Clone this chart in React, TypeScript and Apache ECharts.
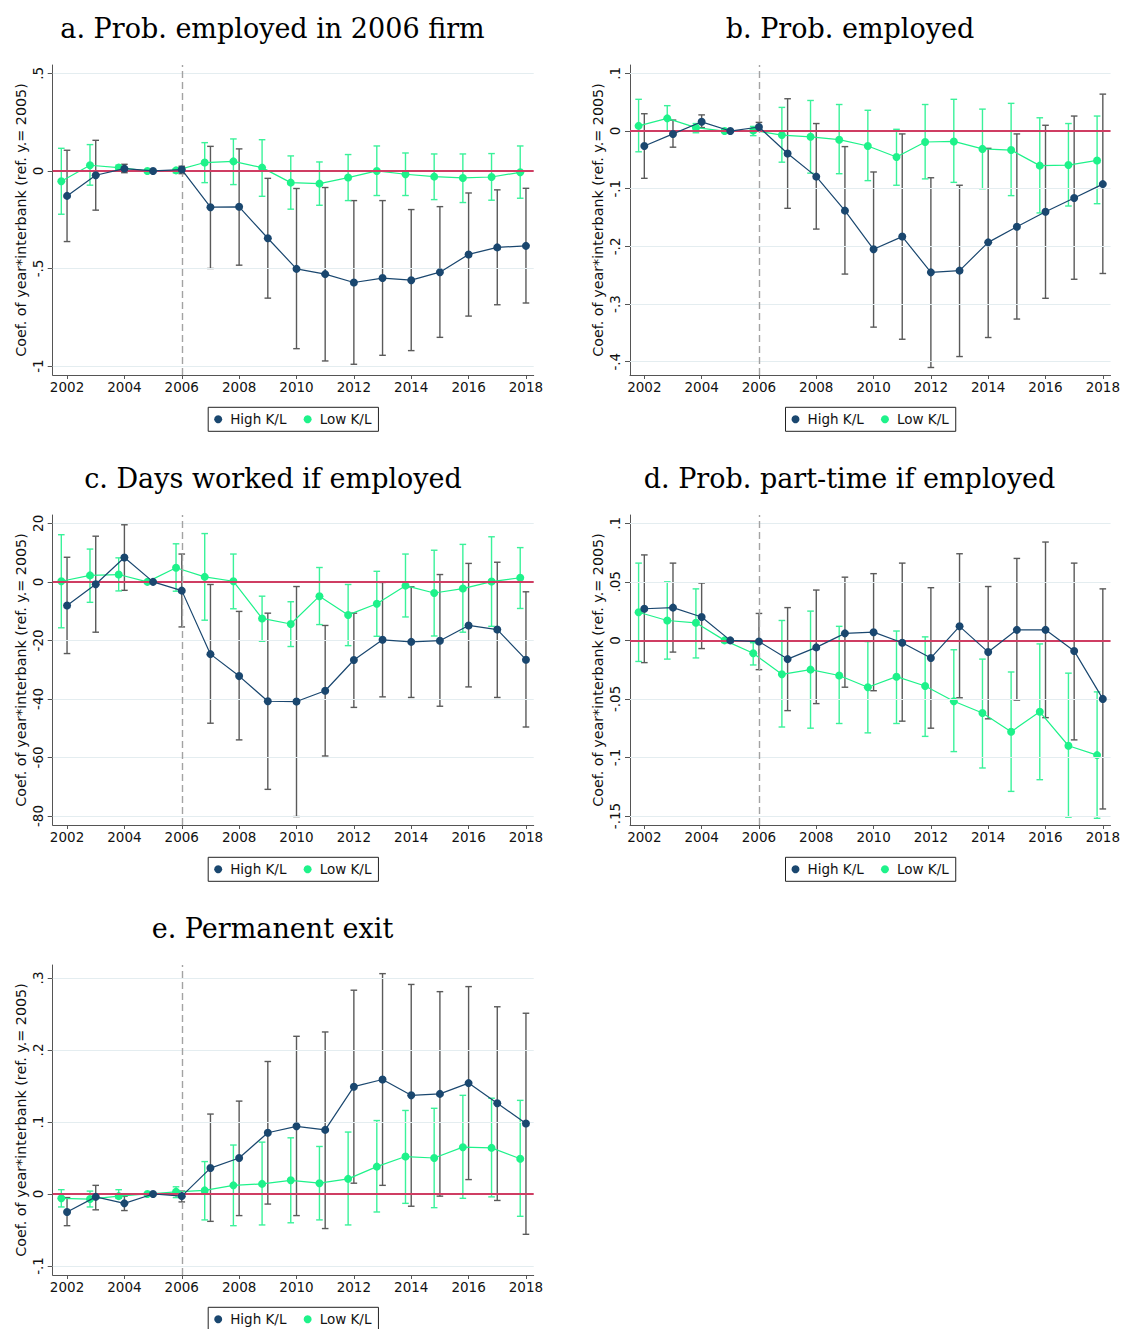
import React, { useEffect, useRef } from "react";
import * as echarts from "echarts";

// Event-study coefficients (year * interbank exposure, reference year 2005),
// with 95% confidence bounds, split by capital-labour ratio of the firm.
const years = [2002, 2003, 2004, 2005, 2006, 2007, 2008, 2009, 2010, 2011, 2012, 2013, 2014, 2015, 2016, 2017, 2018];
const xTicks = [2002, 2004, 2006, 2008, 2010, 2012, 2014, 2016, 2018];
const seriesNames = ["High K/L", "Low K/L"];
const yTitle = "Coef. of year*interbank (ref. y.= 2005)";

// a. Prob. employed in 2006 firm
const aTicks = [-1, -0.5, 0, 0.5];
const aHigh = [-0.128, -0.022, 0.012, 0, 0.007, -0.186, -0.184, -0.345, -0.502, -0.529, -0.572, -0.549, -0.56, -0.519, -0.428, -0.392, -0.384];
const aHighLo = [-0.362, -0.201, -0.009, null, -0.014, -0.5, -0.483, -0.652, -0.911, -0.974, -0.991, -0.945, -0.921, -0.853, -0.744, -0.686, -0.677];
const aHighHi = [0.106, 0.157, 0.034, null, 0.024, 0.126, 0.113, -0.038, -0.09, -0.085, -0.152, -0.152, -0.198, -0.183, -0.113, -0.097, -0.089];
const aLow = [-0.053, 0.029, 0.017, 0, 0.003, 0.043, 0.049, 0.017, -0.06, -0.065, -0.034, 0.0, -0.017, -0.029, -0.036, -0.031, -0.007];
const aLowLo = [-0.222, -0.073, 0.005, null, -0.01, -0.06, -0.07, -0.13, -0.196, -0.176, -0.152, -0.126, -0.126, -0.147, -0.162, -0.15, -0.14];
const aLowHi = [0.116, 0.135, 0.03, null, 0.012, 0.145, 0.164, 0.16, 0.077, 0.046, 0.084, 0.128, 0.092, 0.087, 0.087, 0.089, 0.128];

// b. Prob. employed
const bTicks = [-0.4, -0.3, -0.2, -0.1, 0, 0.1];
const bHigh = [-0.026, -0.005, 0.016, 0, 0.007, -0.039, -0.079, -0.138, -0.205, -0.183, -0.245, -0.242, -0.193, -0.166, -0.14, -0.116, -0.092];
const bHighLo = [-0.082, -0.028, 0.006, null, 0.0, -0.134, -0.17, -0.248, -0.34, -0.361, -0.41, -0.391, -0.358, -0.326, -0.29, -0.257, -0.247];
const bHighHi = [0.03, 0.019, 0.028, null, 0.015, 0.056, 0.013, -0.027, -0.071, -0.005, -0.081, -0.094, -0.03, -0.005, 0.01, 0.026, 0.064];
const bLow = [0.009, 0.022, 0.006, 0, 0.001, -0.007, -0.01, -0.015, -0.026, -0.045, -0.019, -0.018, -0.031, -0.033, -0.06, -0.059, -0.051];
const bLowLo = [-0.036, 0.0, -0.003, null, -0.008, -0.054, -0.073, -0.074, -0.086, -0.094, -0.083, -0.089, -0.1, -0.112, -0.142, -0.13, -0.126];
const bLowHi = [0.055, 0.044, 0.013, null, 0.008, 0.041, 0.053, 0.046, 0.036, 0.003, 0.046, 0.055, 0.038, 0.048, 0.023, 0.013, 0.026];

// c. Days worked if employed
const cTicks = [-80, -60, -40, -20, 0, 20];
const cHigh = [-8.1, -0.8, 8.3, 0, -3.0, -24.7, -32.2, -40.8, -40.9, -37.2, -26.7, -19.8, -20.5, -20.1, -14.9, -16.3, -26.6];
const cHighLo = [-24.5, -17.2, -2.9, null, -15.4, -48.3, -54.0, -70.9, -80.2, -59.5, -42.9, -39.3, -39.5, -42.5, -35.9, -39.5, -49.6];
const cHighHi = [8.4, 15.6, 19.5, null, 9.5, -0.9, -10.1, -10.7, -1.6, -14.9, -10.7, -0.2, -1.7, 2.5, 6.3, 6.7, -3.4];
const cLow = [0.2, 2.2, 2.5, 0, 4.8, 1.7, 0.2, -12.5, -14.4, -4.9, -11.3, -7.5, -1.3, -3.8, -2.3, 0.1, 1.4];
const cLowLo = [-15.7, -7.0, -3.1, null, -3.2, -13.1, -9.2, -20.3, -22.1, -14.6, -21.8, -18.6, -12.0, -18.5, -17.2, -15.2, -9.1];
const cLowHi = [16.1, 11.2, 8.2, null, 13.0, 16.5, 9.5, -4.9, -6.8, 4.9, -0.9, 3.6, 9.5, 10.8, 12.8, 15.4, 11.7];

// d. Prob. part-time if employed
const dTicks = [-0.15, -0.1, -0.05, 0, 0.05, 0.1];
const dHigh = [0.027, 0.028, 0.02, 0, -0.001, -0.016, -0.006, 0.006, 0.007, -0.002, -0.015, 0.012, -0.01, 0.009, 0.009, -0.009, -0.05];
const dHighLo = [-0.019, -0.01, -0.007, null, -0.025, -0.06, -0.054, -0.04, -0.043, -0.069, -0.075, -0.049, -0.067, -0.051, -0.066, -0.085, -0.144];
const dHighHi = [0.073, 0.066, 0.049, null, 0.023, 0.028, 0.043, 0.054, 0.057, 0.066, 0.045, 0.074, 0.046, 0.07, 0.084, 0.066, 0.044];
const dLow = [0.024, 0.017, 0.015, 0, -0.011, -0.029, -0.025, -0.03, -0.04, -0.031, -0.039, -0.052, -0.062, -0.078, -0.061, -0.09, -0.098];
const dLowLo = [-0.018, -0.016, -0.015, null, -0.021, -0.074, -0.075, -0.071, -0.079, -0.071, -0.082, -0.095, -0.109, -0.129, -0.119, -0.151, -0.152];
const dLowHi = [0.066, 0.05, 0.044, null, -0.002, 0.017, 0.025, 0.012, -0.001, 0.008, 0.003, -0.008, -0.016, -0.027, -0.003, -0.028, -0.044];

// e. Permanent exit
const eTicks = [-0.1, 0, 0.1, 0.2, 0.3];
const eHigh = [-0.025, -0.004, -0.013, 0, -0.003, 0.036, 0.05, 0.085, 0.094, 0.089, 0.149, 0.159, 0.137, 0.139, 0.154, 0.126, 0.098];
const eHighLo = [-0.044, -0.022, -0.023, null, -0.011, -0.038, -0.03, -0.014, -0.03, -0.048, 0.015, 0.012, -0.017, -0.003, 0.02, -0.009, -0.056];
const eHighHi = [-0.005, 0.012, -0.003, null, 0.004, 0.111, 0.129, 0.184, 0.219, 0.225, 0.283, 0.306, 0.291, 0.281, 0.288, 0.26, 0.251];
const eLow = [-0.006, -0.007, -0.003, 0, 0.003, 0.005, 0.012, 0.014, 0.019, 0.015, 0.021, 0.038, 0.052, 0.05, 0.065, 0.064, 0.049];
const eLowLo = [-0.018, -0.018, -0.006, null, -0.005, -0.036, -0.044, -0.043, -0.04, -0.036, -0.043, -0.025, -0.013, -0.019, -0.006, -0.004, -0.031];
const eLowHi = [0.006, 0.004, 0.006, null, 0.01, 0.045, 0.068, 0.072, 0.078, 0.066, 0.086, 0.102, 0.116, 0.119, 0.137, 0.133, 0.13];

const panels = [
  { title: "a. Prob. employed in 2006 firm", col: 0, row: 0, titleX: 272.5, ticks: aTicks, yMin: -1.046, yMax: 0.543, high: aHigh, highLo: aHighLo, highHi: aHighHi, low: aLow, lowLo: aLowLo, lowHi: aLowHi },
  { title: "b. Prob. employed", col: 1, row: 0, titleX: 850, ticks: bTicks, yMin: -0.423, yMax: 0.1145, high: bHigh, highLo: bHighLo, highHi: bHighHi, low: bLow, lowLo: bLowLo, lowHi: bLowHi },
  { title: "c. Days worked if employed", col: 0, row: 1, titleX: 273, ticks: cTicks, yMin: -83.08, yMax: 22.84, high: cHigh, highLo: cHighLo, highHi: cHighHi, low: cLow, lowLo: cLowLo, lowHi: cLowHi },
  { title: "d. Prob. part-time if employed", col: 1, row: 1, titleX: 849.5, ticks: dTicks, yMin: -0.1577, yMax: 0.1071, high: dHigh, highLo: dHighLo, highHi: dHighHi, low: dLow, lowLo: dLowLo, lowHi: dLowHi },
  { title: "e. Permanent exit", col: 0, row: 2, titleX: 272.5, ticks: eTicks, yMin: -0.1125, yMax: 0.318, high: eHigh, highLo: eHighLo, highHi: eHighHi, low: eLow, lowLo: eLowLo, lowHi: eLowHi },
];

const W = 1123;
const H = 1329;
const LEFTS = [52.7, 630];
const TOPS = [65, 515, 965];
const PW = 481;
const PH = 310;
const X_MIN = 2001.5;
const X_MAX = 2018.27;
const LOW_SHIFT = -0.2;

const NAVY = "#1A476F";
const GREEN = "#1EF28A";
const NAVY_CI = "#5A5A5A";
const GREEN_CI = "#3AF29A";
const ZERO_RED = "#CF3D63";
const GRID_LINE = "#E4EDF0";
const DASH = "#A3A3A3";
const AXIS = "#555555";
const TEXT = "#111111";
const SANS = "DejaVu Sans";
const SERIF = "DejaVu Serif";

const fmtTick = (v: number) => {
  const r = +v.toFixed(4);
  if (r === 0) return "0";
  return String(r).replace(/^(-?)0\./, "$1.");
};

function errorBars(idx: number, xs: number[], lo: (number | null)[], hi: (number | null)[], color: string, z: number) {
  const data: number[][] = [];
  xs.forEach((x, k) => {
    const l = lo[k];
    const h = hi[k];
    if (l != null && h != null) data.push([x, l, h]);
  });
  return {
    type: "custom",
    name: "ci",
    xAxisIndex: idx,
    yAxisIndex: idx,
    silent: true,
    z,
    data,
    encode: { x: 0, y: [1, 2] },
    renderItem: (_params: any, api: any) => {
      const x = api.value(0);
      const a = api.coord([x, api.value(1)]);
      const b = api.coord([x, api.value(2)]);
      const w = 3.3;
      const style = { stroke: color, lineWidth: 1.4, fill: "none" };
      return {
        type: "group",
        children: [
          { type: "line", shape: { x1: a[0], y1: a[1], x2: b[0], y2: b[1] }, style },
          { type: "line", shape: { x1: a[0] - w, y1: a[1], x2: a[0] + w, y2: a[1] }, style },
          { type: "line", shape: { x1: b[0] - w, y1: b[1], x2: b[0] + w, y2: b[1] }, style },
        ],
      };
    },
  };
}

function buildOption() {
  const grid: any[] = [];
  const xAxis: any[] = [];
  const yAxis: any[] = [];
  const series: any[] = [];
  const title: any[] = [];
  const legend: any[] = [];

  panels.forEach((p, i) => {
    const left = LEFTS[p.col];
    const top = TOPS[p.row];
    grid.push({ left, top, width: PW, height: PH, containLabel: false });

    xAxis.push({
      gridIndex: i,
      type: "value",
      min: X_MIN,
      max: X_MAX,
      axisLine: { show: true, onZero: false, lineStyle: { color: AXIS, width: 1 } },
      axisTick: { show: true, customValues: xTicks, length: 4, lineStyle: { color: AXIS } },
      axisLabel: { show: true, customValues: xTicks, margin: 5, fontSize: 13.5, fontFamily: SANS, color: TEXT, formatter: (v: number) => String(v) },
      splitLine: { show: false },
    });

    yAxis.push({
      gridIndex: i,
      type: "value",
      min: p.yMin,
      max: p.yMax,
      name: yTitle,
      nameLocation: "middle",
      nameGap: 25,
      nameRotate: 90,
      nameTextStyle: { fontSize: 14.3, fontFamily: SANS, color: TEXT },
      axisLine: { show: true, onZero: false, lineStyle: { color: AXIS, width: 1 } },
      axisTick: { show: true, customValues: p.ticks, length: 5, lineStyle: { color: AXIS } },
      axisLabel: { show: true, customValues: p.ticks, rotate: 90, margin: 8, fontSize: 13.5, fontFamily: SANS, color: TEXT, formatter: fmtTick },
      splitLine: { show: false },
    });

    title.push({
      text: p.title,
      left: p.titleX,
      top: TOPS[p.row] - 50,
      textAlign: "center",
      padding: 0,
      textStyle: { fontFamily: SERIF, fontSize: 27, fontWeight: "normal", color: "#000" },
    });

    legend.push({
      data: seriesNames,
      left: left + PW / 2 - 85,
      top: top + 342.3,
      orient: "horizontal",
      icon: "circle",
      itemWidth: 14,
      itemHeight: 8,
      itemGap: 17.2,
      padding: [5, 7, 5, 6],
      borderColor: "#222",
      borderWidth: 1,
      borderRadius: 0,
      selectedMode: false,
      textStyle: { fontSize: 13.5, fontFamily: SANS, color: TEXT },
    });

    // reference lines: light horizontal grid, red zero line, dashed 2006 marker
    series.push({
      type: "line",
      name: "ref",
      xAxisIndex: i,
      yAxisIndex: i,
      data: [],
      silent: true,
      z: 1,
      markLine: {
        silent: true,
        symbol: ["none", "none"],
        label: { show: false },
        animation: false,
        data: [
          ...p.ticks.filter((t) => t !== 0).map((t) => ({ yAxis: t, lineStyle: { color: GRID_LINE, width: 1.2, type: "solid" } })),
          { yAxis: 0, lineStyle: { color: ZERO_RED, width: 2, type: "solid" } },
          { xAxis: 2006, lineStyle: { color: DASH, width: 1.4, type: [7, 4] } },
        ],
      },
    });

    const xsHigh = years;
    const xsLow = years.map((y) => +(y + LOW_SHIFT).toFixed(2));

    series.push(errorBars(i, xsHigh, p.highLo, p.highHi, NAVY_CI, 3));
    series.push(errorBars(i, xsLow, p.lowLo, p.lowHi, GREEN_CI, 3));

    series.push({
      type: "line",
      name: seriesNames[0],
      xAxisIndex: i,
      yAxisIndex: i,
      z: 5,
      data: xsHigh.map((x, k) => [x, p.high[k]]),
      symbol: "circle",
      symbolSize: 8,
      showSymbol: true,
      lineStyle: { color: NAVY, width: 1.2 },
      itemStyle: { color: NAVY },
      emphasis: { disabled: true },
    });
    series.push({
      type: "line",
      name: seriesNames[1],
      xAxisIndex: i,
      yAxisIndex: i,
      z: 4,
      data: xsLow.map((x, k) => [x, p.low[k]]),
      symbol: "circle",
      symbolSize: 8,
      showSymbol: true,
      lineStyle: { color: GREEN, width: 1.2 },
      itemStyle: { color: GREEN },
      emphasis: { disabled: true },
    });
  });

  return {
    animation: false,
    backgroundColor: "#ffffff",
    title,
    legend,
    grid,
    xAxis,
    yAxis,
    series,
  };
}

export default function App() {
  const ref = useRef<HTMLDivElement>(null);
  useEffect(() => {
    if (!ref.current) return;
    const chart = echarts.init(ref.current, undefined, { renderer: "svg", width: W, height: H });
    chart.setOption(buildOption() as any);
    return () => chart.dispose();
  }, []);
  return (
    <div
      ref={ref}
      style={{ position: "absolute", left: 0, top: 0, width: W, height: H, background: "#fff" }}
    />
  );
}
